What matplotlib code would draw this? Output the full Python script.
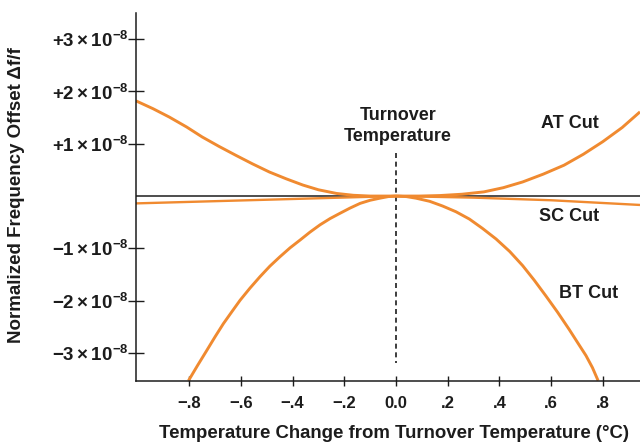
import numpy as np
import matplotlib
matplotlib.use("Agg")
import matplotlib.pyplot as plt

plt.rcParams['font.family'] = ['Liberation Sans', 'DejaVu Sans']
plt.rcParams['font.weight'] = 'bold'
plt.rcParams['mathtext.fontset'] = 'custom'
plt.rcParams['mathtext.rm'] = 'Liberation Sans:bold'
plt.rcParams['mathtext.bf'] = 'Liberation Sans:bold'
plt.rcParams['mathtext.it'] = 'Liberation Sans:bold'

# values, offsets in units of 1e-8
at_x = [-1.006, -0.94, -0.877, -0.81, -0.75, -0.685, -0.62, -0.555, -0.49,
        -0.425, -0.36, -0.30, -0.23, -0.165, -0.10, 0.0, 0.09, 0.17, 0.255,
        0.34, 0.415, 0.49, 0.57, 0.65, 0.725, 0.80, 0.875, 0.944]
at_y = [1.82, 1.67, 1.51, 1.32, 1.13, 0.95, 0.78, 0.615, 0.46,
        0.33, 0.21, 0.12, 0.05, 0.015, 0.0, 0.0, 0.0, 0.01, 0.035,
        0.08, 0.16, 0.27, 0.42, 0.59, 0.80, 1.04, 1.31, 1.61]

bt_x = [-0.803, -0.768, -0.732, -0.70, -0.668, -0.635, -0.603, -0.565, -0.526,
        -0.488, -0.449, -0.41, -0.371, -0.333, -0.294, -0.255, -0.217, -0.178,
        -0.139, -0.10, -0.062, -0.03, 0.0, 0.04, 0.077, 0.13, 0.18, 0.232,
        0.284, 0.335, 0.387, 0.44, 0.49, 0.535, 0.58, 0.625, 0.67, 0.705,
        0.735, 0.76, 0.782]
bt_y = [-3.53, -3.24, -2.95, -2.69, -2.44, -2.21, -1.99, -1.76, -1.54,
        -1.34, -1.16, -0.99, -0.84, -0.69, -0.55, -0.43, -0.33, -0.23,
        -0.14, -0.08, -0.04, -0.01, 0.0, -0.01, -0.04, -0.10, -0.19, -0.30,
        -0.44, -0.62, -0.82, -1.06, -1.33, -1.61, -1.91, -2.22, -2.55, -2.82,
        -3.05, -3.28, -3.53]

sc_x = [-1.006, -0.5, 0.0, 0.3, 0.6, 0.944]
sc_y = [-0.14, -0.07, 0.0, -0.03, -0.08, -0.17]

x_ticks = [-0.8, -0.6, -0.4, -0.2, 0.0, 0.2, 0.4, 0.6, 0.8]
x_labels = ['\u2212.8', '\u2212.6', '\u2212.4', '\u2212.2', '0.0', '.2', '.4', '.6', '.8']
y_ticks = [3, 2, 1, -1, -2, -3]
y_labels = [r'$+3\times10^{-8}$', r'$+2\times10^{-8}$', r'$+1\times10^{-8}$',
            r'$-1\times10^{-8}$', r'$-2\times10^{-8}$', r'$-3\times10^{-8}$']

orange = '#f08a30'
ink = '#1c1c1c'

fig = plt.figure(figsize=(6.4, 4.42), dpi=100)
ax = fig.add_axes([136/640, 1-380.7/442, 1-136/640, (380.7-13)/442])
ax.set_xlim(-1.006, 0.944)
ax.set_ylim(-3.53, 3.50)

ax.axhline(0, color=ink, lw=1.1, zorder=1)
ax.plot([0, 0], [0.82, -3.2], color=ink, lw=1.2, ls=(0, (3, 2.2)), zorder=1)

for xs, ys, w in [(at_x, at_y, 2.1), (bt_x, bt_y, 2.1), (sc_x, sc_y, 1.7)]:
    ax.plot(xs, ys, color=orange, lw=w, solid_capstyle='butt',
            solid_joinstyle='round', zorder=2)

for s in ['top', 'right']:
    ax.spines[s].set_visible(False)
for s in ['left', 'bottom']:
    ax.spines[s].set_color(ink)
    ax.spines[s].set_linewidth(1.1)

ax.set_xticks(x_ticks)
ax.set_xticklabels(x_labels)
ax.set_yticks(y_ticks)
ax.set_yticklabels(y_labels)
ax.tick_params(axis='x', direction='inout', length=6.5, width=1.0, color=ink,
               labelsize=12, labelcolor=ink, pad=8)
ax.tick_params(axis='y', direction='inout', length=11, width=1.0, color=ink,
               labelsize=13.5, labelcolor=ink, pad=0)

ax.text(0.008, 1.34, 'Turnover\nTemperature', ha='center', va='center',
        fontsize=13, color=ink, linespacing=1.35)
ax.text(0.673, 1.39, 'AT Cut', ha='center', va='center', fontsize=13, color=ink)
ax.text(0.671, -0.40, 'SC Cut', ha='center', va='center', fontsize=13, color=ink)
ax.text(0.746, -1.86, 'BT Cut', ha='center', va='center', fontsize=13, color=ink)

fig.text(394/640, 1-433/442, 'Temperature Change from Turnover Temperature (\u00b0C)',
         ha='center', va='center', fontsize=13.4, color=ink)
fig.text(17/640, 1-195/442, 'Normalized Frequency Offset \u0394f/f', rotation=90,
         ha='center', va='center', fontsize=13.5, color=ink)

fig.savefig('out.png', dpi=100)
